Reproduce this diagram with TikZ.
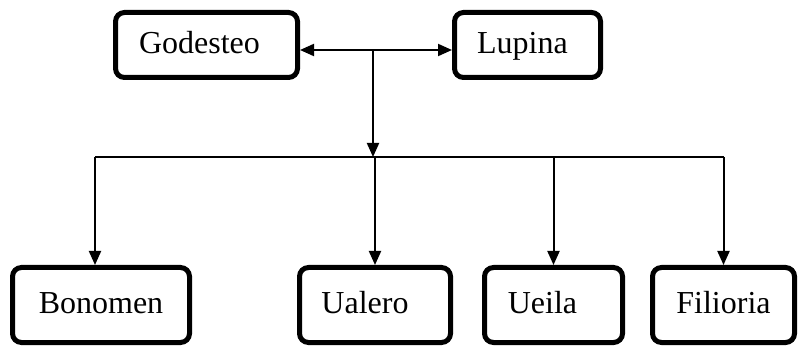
\documentclass[tikz,border=0pt]{standalone}
\usepackage{fontspec}
\setmainfont{Liberation Serif}
\usetikzlibrary{arrows.meta,positioning,calc}
\tikzset{
  box/.style={draw, line width=5pt, rounded corners=9pt, inner sep=0pt,
    text height=22pt, text depth=5pt, font=\fontsize{32}{36}\selectfont},
  edge/.style={-{Triangle[length=14pt, width=12pt]}, line width=2pt},
  twoedge/.style={{Triangle[length=14pt, width=12pt]}-{Triangle[length=14pt, width=12pt]}, line width=2pt},
  busline/.style={line width=1.5pt}
}

\begin{document}
\begin{tikzpicture}[x=1pt, y=-1pt]
\useasboundingbox (0,0) rectangle (800,347);
\node[box, minimum width=182pt, minimum height=65pt] (godesteo) at (206.5,45) {Godesteo\kern14pt};
\node[box, minimum width=146pt, minimum height=65pt] (lupina) at (527.5,45) {Lupina\kern10pt};
\node[box, minimum width=177pt, minimum height=75pt] (bonomen) at (101,305) {Bonomen};
\node[box, minimum width=151pt, minimum height=75pt] (ualero) at (375,305) {Ualero\kern20pt};
\node[box, minimum width=138pt, minimum height=75pt] (ueila) at (553.5,305) {Ueila\kern22pt};
\node[box, minimum width=142pt, minimum height=75pt] (filioria) at (723.5,305) {Filioria};
\coordinate (junction) at (373,50);
\coordinate (bus) at (0,157);

\draw[twoedge] (godesteo.east |- junction) -- (lupina.west |- junction);
\draw[edge] (junction) -- (junction |- bus);
\draw[busline] ([xshift=-6pt]bonomen.north |- bus) -- (filioria.north |- bus);
\draw[edge] ([xshift=-6pt]bonomen.north |- bus) -- ([xshift=-6pt]bonomen.north);
\draw[edge] (ualero.north |- bus) -- (ualero);
\draw[edge] (ueila.north |- bus) -- (ueila);
\draw[edge] (filioria.north |- bus) -- (filioria);
\end{tikzpicture}
\end{document}
